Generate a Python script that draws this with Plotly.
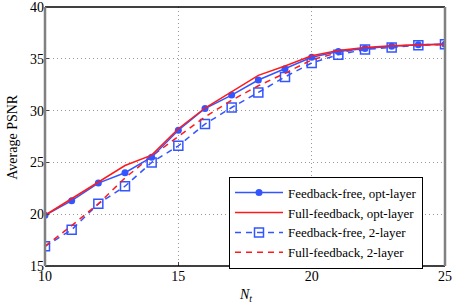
import plotly.graph_objects as go

nt = [10, 11, 12, 13, 14, 15, 16, 17, 18, 19, 20, 21, 22, 23, 24, 25]
ff_opt = [19.9, 21.3, 23.0, 24.0, 25.5, 28.1, 30.2, 31.5, 32.95, 34.05, 35.15, 35.7, 36.0, 36.2, 36.35, 36.4]
full_opt = [19.9, 21.5, 23.1, 24.7, 25.7, 28.25, 30.25, 31.8, 33.4, 34.3, 35.3, 35.8, 36.1, 36.25, 36.35, 36.4]
ff_2 = [16.9, 18.5, 21.0, 22.7, 25.0, 26.6, 28.7, 30.3, 31.75, 33.25, 34.6, 35.4, 35.9, 36.1, 36.3, 36.4]
full_2 = [16.9, 18.9, 21.0, 23.5, 25.6, 27.5, 29.4, 31.0, 32.4, 33.6, 34.9, 35.6, 36.0, 36.2, 36.35, 36.4]

BLUE = "#3355ff"
RED = "#ff1a1a"
FONT = "Liberation Serif, Times New Roman, serif"

fig = go.Figure()
fig.add_trace(go.Scatter(x=nt, y=ff_2, name="Feedback-free, 2-layer", mode="lines+markers",
                         line=dict(color=BLUE, width=1.5, dash="6px,5px"),
                         marker=dict(symbol="square-open", size=9, color=BLUE, line=dict(width=1.5)),
                         showlegend=False))
fig.add_trace(go.Scatter(x=nt, y=full_2, name="Full-feedback, 2-layer", mode="lines",
                         line=dict(color=RED, width=1.5, dash="6px,5px"), showlegend=False))
fig.add_trace(go.Scatter(x=nt, y=ff_opt, name="Feedback-free, opt-layer", mode="lines+markers",
                         line=dict(color=BLUE, width=1.5),
                         marker=dict(symbol="circle", size=7, color=BLUE), showlegend=False))
fig.add_trace(go.Scatter(x=nt, y=full_opt, name="Full-feedback, opt-layer", mode="lines",
                         line=dict(color=RED, width=1.5), showlegend=False))

# legend entries in reference order
for tr in [2, 3, 0, 1]:
    d = fig.data[tr]
    fig.add_trace(go.Scatter(x=[None], y=[None], name=d.name, mode=d.mode,
                             line=d.line, marker=d.marker, showlegend=True))

fig.update_layout(
    width=457, height=305,
    margin=dict(l=45, r=12, t=7, b=39),
    paper_bgcolor="white", plot_bgcolor="white",
    font=dict(family=FONT, size=14, color="black"),
    legend=dict(x=0.46, y=0.345, xanchor="left", yanchor="top",
                bordercolor="black", borderwidth=1, bgcolor="white",
                font=dict(family=FONT, size=13), tracegroupgap=0,
                itemwidth=48),
    xaxis=dict(range=[10, 25], tickvals=[10, 15, 20, 25], ticks="inside", ticklen=4,
               showgrid=True, gridcolor="#999999", griddash="1px,3px", gridwidth=1,
               showline=False, zeroline=False, automargin=False, ticklabeloverflow="allow",
               tickfont=dict(family=FONT, size=14)),
    yaxis=dict(range=[15, 40], tickvals=[15, 20, 25, 30, 35, 40], ticks="inside", ticklen=4,
               showgrid=True, gridcolor="#999999", griddash="1px,3px", gridwidth=1,
               showline=False, zeroline=False, automargin=False, ticklabeloverflow="allow",
               tickfont=dict(family=FONT, size=14)),
    annotations=[
        dict(text="<i>N<sub>t</sub></i>", xref="paper", yref="paper", x=0.5, y=-0.075,
             xanchor="center", yanchor="top", showarrow=False, font=dict(family=FONT, size=14)),
        dict(text="Average PSNR", xref="paper", yref="paper", x=-0.082, y=0.5, textangle=-90,
             xanchor="center", yanchor="middle", showarrow=False, font=dict(family=FONT, size=14)),
    ],
    shapes=[
        dict(type="line", xref="paper", yref="paper", x0=0, x1=1, y0=1, y1=1, line=dict(color="black", width=1.5)),
        dict(type="line", xref="paper", yref="paper", x0=0, x1=1, y0=0, y1=0, line=dict(color="black", width=1.5)),
        dict(type="line", xref="paper", yref="paper", x0=0, x1=0, y0=0, y1=1, line=dict(color="#808080", width=2.5)),
        dict(type="line", xref="paper", yref="paper", x0=1, x1=1, y0=0, y1=1, line=dict(color="#808080", width=2.5)),
    ],
)

fig.write_html("out.html", config={"displayModeBar": False},
               post_script="document.body.style.margin='0';")
